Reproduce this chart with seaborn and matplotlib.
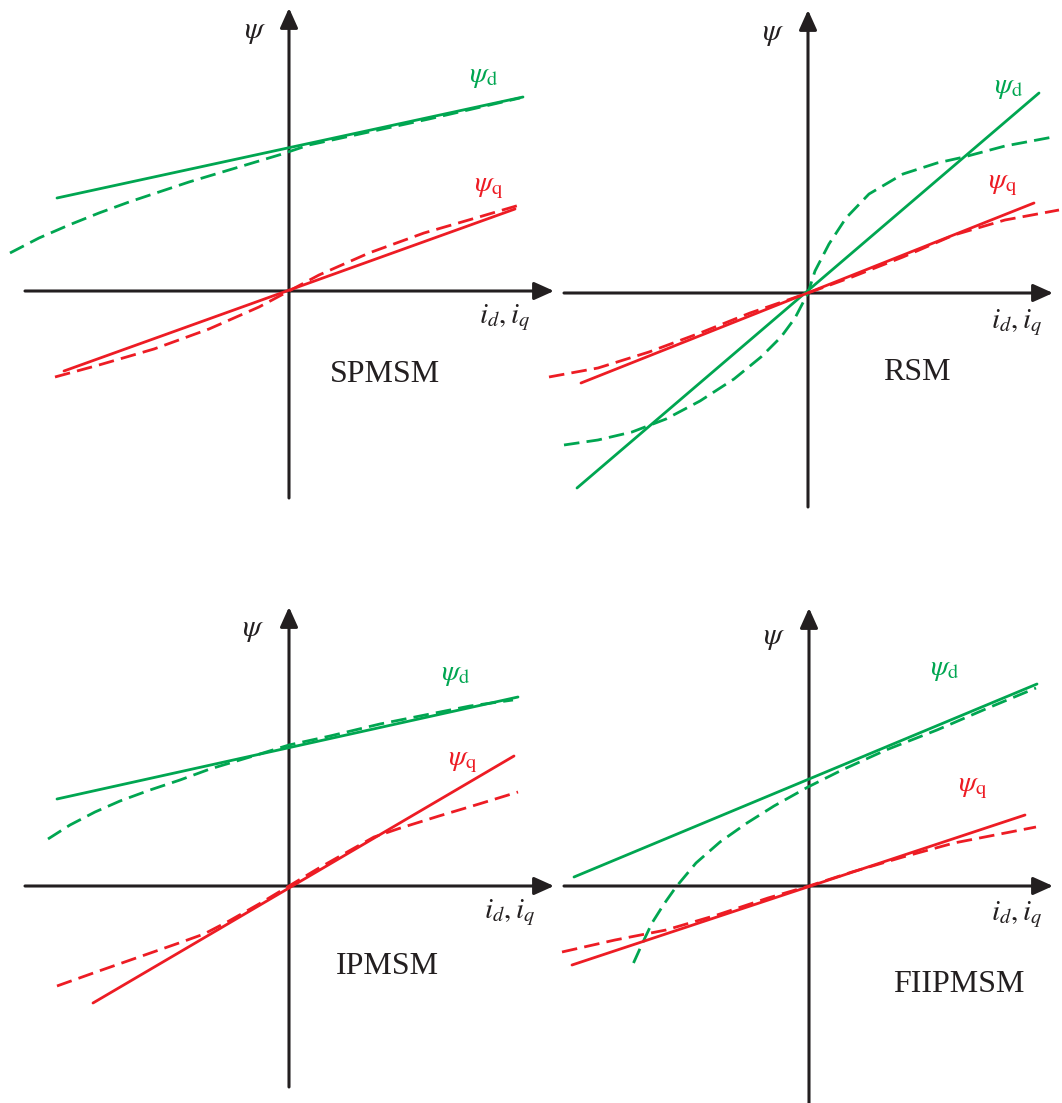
import matplotlib
matplotlib.use("Agg")
import matplotlib.pyplot as plt
import pandas as pd
import seaborn as sns

sns.set_theme(style="white")
plt.rcParams["mathtext.fontset"] = "stix"
plt.rcParams["font.family"] = ["Liberation Serif", "DejaVu Serif"]

GREEN = "#00a651"
RED = "#ed1c24"
INK = "#231f20"

# ---------------------------------------------------------------------------
# Flux linkage vs. current, per machine type (arbitrary units).
# "lin" = linear (unsaturated) model, "sat" = saturated characteristic.
# ---------------------------------------------------------------------------
# SPMSM
spm_d_lin_x = [-2.32, 2.34]
spm_d_lin_y = [0.93, 1.94]
spm_d_sat_x = [-2.79, -2.50, -2.20, -1.90, -1.60, -1.30, -1.00, -0.70, -0.40, -0.10, 0.20, 0.80, 1.40, 2.31]
spm_d_sat_y = [0.38, 0.53, 0.66, 0.78, 0.89, 0.99, 1.09, 1.18, 1.27, 1.36, 1.46, 1.59, 1.72, 1.93]
spm_q_lin_x = [-2.25, 2.26]
spm_q_lin_y = [-0.80, 0.82]
spm_q_sat_x = [-2.34, -1.90, -1.35, -0.80, -0.30, 0.00, 0.30, 0.80, 1.35, 1.90, 2.34]
spm_q_sat_y = [-0.86, -0.74, -0.58, -0.38, -0.16, 0.00, 0.16, 0.38, 0.58, 0.74, 0.87]

# RSM
rsm_d_lin_x = [-2.31, 2.31]
rsm_d_lin_y = [-1.95, 2.00]
rsm_d_sat_x = [-2.44, -2.10, -1.76, -1.42, -1.08, -0.74, -0.47, -0.27, -0.13, 0.00,
               0.07, 0.21, 0.38, 0.61, 0.95, 1.29, 1.56, 1.97, 2.45]
rsm_d_sat_y = [-1.52, -1.47, -1.39, -1.26, -1.08, -0.86, -0.64, -0.44, -0.25, 0.00,
               0.22, 0.49, 0.75, 0.99, 1.19, 1.30, 1.36, 1.47, 1.56]
rsm_q_lin_x = [-2.27, 2.26]
rsm_q_lin_y = [-0.90, 0.90]
rsm_q_sat_x = [-2.59, -2.10, -1.59, -1.08, -0.58, 0.00, 0.44, 0.95, 1.46, 1.97, 2.51]
rsm_q_sat_y = [-0.84, -0.75, -0.59, -0.40, -0.20, 0.00, 0.16, 0.36, 0.58, 0.73, 0.83]

# IPMSM
ipm_d_lin_x = [-2.32, 2.29]
ipm_d_lin_y = [0.87, 1.89]
ipm_d_sat_x = [-2.41, -2.19, -1.94, -1.69, -1.39, -1.09, -0.79, -0.39, 0.00, 0.41, 0.91, 1.41, 1.81, 2.24]
ipm_d_sat_y = [0.47, 0.61, 0.74, 0.85, 0.96, 1.06, 1.17, 1.29, 1.41, 1.50, 1.62, 1.72, 1.80, 1.86]
ipm_q_lin_x = [-1.96, 2.25]
ipm_q_lin_y = [-1.17, 1.30]
ipm_q_sat_x = [-2.32, -1.90, -1.50, -1.10, -0.85, -0.60, -0.30, 0.00, 0.30, 0.60, 0.85, 1.10, 1.50, 1.90, 2.29]
ipm_q_sat_y = [-1.00, -0.85, -0.71, -0.57, -0.48, -0.35, -0.18, 0.00, 0.18, 0.35, 0.49, 0.575, 0.70, 0.82, 0.94]

# FIIPMSM
fii_d_lin_x = [-2.35, 2.28]
fii_d_lin_y = [0.09, 2.02]
fii_d_sat_x = [-1.755, -1.66, -1.57, -1.45, -1.33, -1.13, -0.89, -0.62, -0.35, -0.01, 0.33, 0.77, 1.28, 1.79, 2.27]
fii_d_sat_y = [-0.77, -0.56, -0.37, -0.18, -0.01, 0.23, 0.44, 0.63, 0.80, 0.99, 1.16, 1.36, 1.56, 1.78, 1.98]
fii_q_lin_x = [-2.37, 2.16]
fii_q_lin_y = [-0.79, 0.71]
fii_q_sat_x = [-2.47, -1.94, -1.43, -0.92, -0.41, 0.00, 0.43, 0.94, 1.45, 2.27]
fii_q_sat_y = [-0.66, -0.54, -0.44, -0.29, -0.12, 0.00, 0.14, 0.29, 0.43, 0.59]

machines = ["SPMSM", "RSM", "IPMSM", "FIIPMSM"]

curves = {
    "SPMSM": [(spm_d_lin_x, spm_d_lin_y, "d", "lin"), (spm_d_sat_x, spm_d_sat_y, "d", "sat"),
              (spm_q_lin_x, spm_q_lin_y, "q", "lin"), (spm_q_sat_x, spm_q_sat_y, "q", "sat")],
    "RSM": [(rsm_d_lin_x, rsm_d_lin_y, "d", "lin"), (rsm_d_sat_x, rsm_d_sat_y, "d", "sat"),
            (rsm_q_lin_x, rsm_q_lin_y, "q", "lin"), (rsm_q_sat_x, rsm_q_sat_y, "q", "sat")],
    "IPMSM": [(ipm_d_lin_x, ipm_d_lin_y, "d", "lin"), (ipm_d_sat_x, ipm_d_sat_y, "d", "sat"),
              (ipm_q_lin_x, ipm_q_lin_y, "q", "lin"), (ipm_q_sat_x, ipm_q_sat_y, "q", "sat")],
    "FIIPMSM": [(fii_d_lin_x, fii_d_lin_y, "d", "lin"), (fii_d_sat_x, fii_d_sat_y, "d", "sat"),
                (fii_q_lin_x, fii_q_lin_y, "q", "lin"), (fii_q_sat_x, fii_q_sat_y, "q", "sat")],
}

# ---------------------------------------------------------------------------
# Layout: each diagram gets its own transparent axes spanning the figure,
# with the limits chosen so the origin lands at its place on the page.
# ---------------------------------------------------------------------------
W, H, S = 1062, 1103, 100.0
layout = {
    "SPMSM":   dict(origin=(289, 291), hx=(-2.64, 2.65), vy=(-2.07, 2.83),
                    psi=(-0.34, 2.59), psid=(1.94, 2.14), psiq=(2.00, 1.03),
                    cur=(2.16, -0.27), name=(0.96, -0.84)),
    "RSM":     dict(origin=(808, 293), hx=(-2.44, 2.45), vy=(-2.14, 2.83),
                    psi=(-0.35, 2.60), psid=(2.00, 2.05), psiq=(1.95, 1.08),
                    cur=(2.09, -0.30), name=(1.09, -0.80)),
    "IPMSM":   dict(origin=(289, 886), hx=(-2.64, 2.65), vy=(-2.01, 2.79),
                    psi=(-0.36, 2.56), psid=(1.66, 2.11), psiq=(1.74, 1.24),
                    cur=(2.21, -0.27), name=(0.98, -0.81)),
    "FIIPMSM": dict(origin=(809, 886), hx=(-2.45, 2.44), vy=(-2.17, 2.78),
                    psi=(-0.35, 2.49), psid=(1.35, 2.16), psiq=(1.64, 0.98),
                    cur=(2.08, -0.29), name=(1.50, -0.99)),
}

fig = plt.figure(figsize=(W / 100, H / 100), dpi=100)
fig.patch.set_facecolor("white")

arrow = dict(arrowstyle="-|>,head_length=0.6,head_width=0.27", lw=2.2, color=INK,
             shrinkA=0, shrinkB=0, mutation_scale=20)

for m in machines:
    lay = layout[m]
    ox, oy = lay["origin"]
    ax = fig.add_axes([0, 0, 1, 1])
    ax.set_xlim(-ox / S, (W - ox) / S)
    ax.set_ylim((oy - H) / S, oy / S)
    ax.axis("off")
    ax.patch.set_alpha(0)

    rows = []
    for xs, ys, axis_name, model in curves[m]:
        for x, y in zip(xs, ys):
            rows.append({"current": x, "flux": y, "axis": axis_name, "model": model})
    df = pd.DataFrame(rows)

    sns.lineplot(data=df, x="current", y="flux", hue="axis", style="model",
                 palette={"d": GREEN, "q": RED},
                 dashes={"lin": "", "sat": (5.6, 2.6)},
                 sort=False, estimator=None, lw=2.0, legend=False, ax=ax, zorder=3)

    # coordinate axes with arrow heads
    ax.annotate("", xy=(lay["hx"][1], 0), xytext=(lay["hx"][0], 0),
                arrowprops=arrow, annotation_clip=False, zorder=1)
    ax.annotate("", xy=(0, lay["vy"][1]), xytext=(0, lay["vy"][0]),
                arrowprops=arrow, annotation_clip=False, zorder=1)

    ax.text(*lay["psi"], r"$\psi$", fontsize=22, color=INK, ha="center", va="center")
    ax.text(*lay["psid"], r"$\psi_{\mathrm{d}}$", fontsize=21, color=GREEN, ha="center", va="center")
    ax.text(*lay["psiq"], r"$\psi_{\mathrm{q}}$", fontsize=21, color=RED, ha="center", va="center")
    ax.text(*lay["cur"], r"$i_d,i_q$", fontsize=21, color=INK, ha="center", va="center")
    ax.text(*lay["name"], m, fontsize=23, color=INK, ha="center", va="center",
            family=["Liberation Serif", "DejaVu Serif"])

fig.savefig("out.png", dpi=100)
